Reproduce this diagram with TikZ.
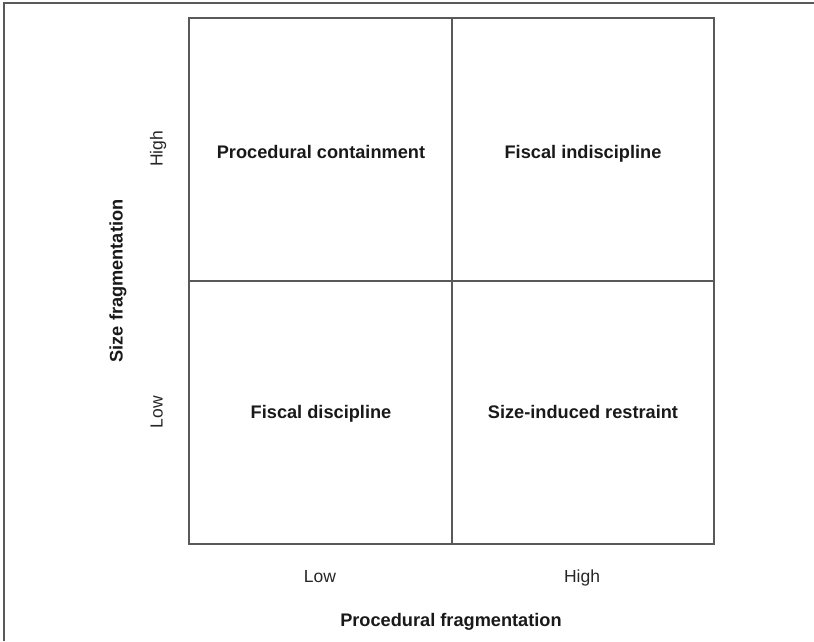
\documentclass[tikz,border=0pt]{standalone}
\usepackage{fontspec}
\setmainfont{Liberation Sans}
\begin{document}
\begin{tikzpicture}[x=1pt,y=1pt,
  txt/.style={text height=0.72em, text depth=0.21em, inner sep=0pt},
  grid/.style={draw=black!65, line width=1.4pt},
  cell/.style={txt, font=\fontsize{18.2}{21}\selectfont\bfseries, text=black!90},
  tick/.style={txt, font=\fontsize{17.5}{21}\selectfont, text=black!85},
  axis/.style={txt, font=\fontsize{18.2}{21}\selectfont\bfseries, text=black!90}]
\useasboundingbox (0,0) rectangle (814,641);
% outer frame (top and left only)
\coordinate (ftl) at (4,638);
\coordinate (ftr) at (814,638);
\coordinate (fbl) at (4,0);
\draw[draw=black!65, line width=2pt] (fbl) -- (ftl) -- (ftr);
% main box
\coordinate (bl) at (189,97);
\coordinate (tr) at (714,623);
\coordinate (mt) at (452,623);
\coordinate (mb) at (452,97);
\coordinate (ml) at (189,360);
\coordinate (mr) at (714,360);
\draw[grid] (bl) rectangle (tr);
\draw[grid] (mt) -- (mb);
\draw[grid] (ml) -- (mr);
% cells
\node[cell] (pc) at (321,485) {Procedural containment};
\node[cell] (fi) at (583,485) {Fiscal indiscipline};
\node[cell] (fd) at (321,225) {Fiscal discipline};
\node[cell] (sr) at (583,225) {Size-induced restraint};
% x axis
\node[tick] (xl) at (320,61) {Low};
\node[tick] (xh) at (582,61) {High};
\node[axis] (xa) at (451,17) {Procedural fragmentation};
% y axis
\node[tick, rotate=90] (yh) at (160,492) {High};
\node[tick, rotate=90] (yl) at (160,229) {Low};
\node[axis, rotate=90] (ya) at (120,360) {Size fragmentation};
\end{tikzpicture}
\end{document}
